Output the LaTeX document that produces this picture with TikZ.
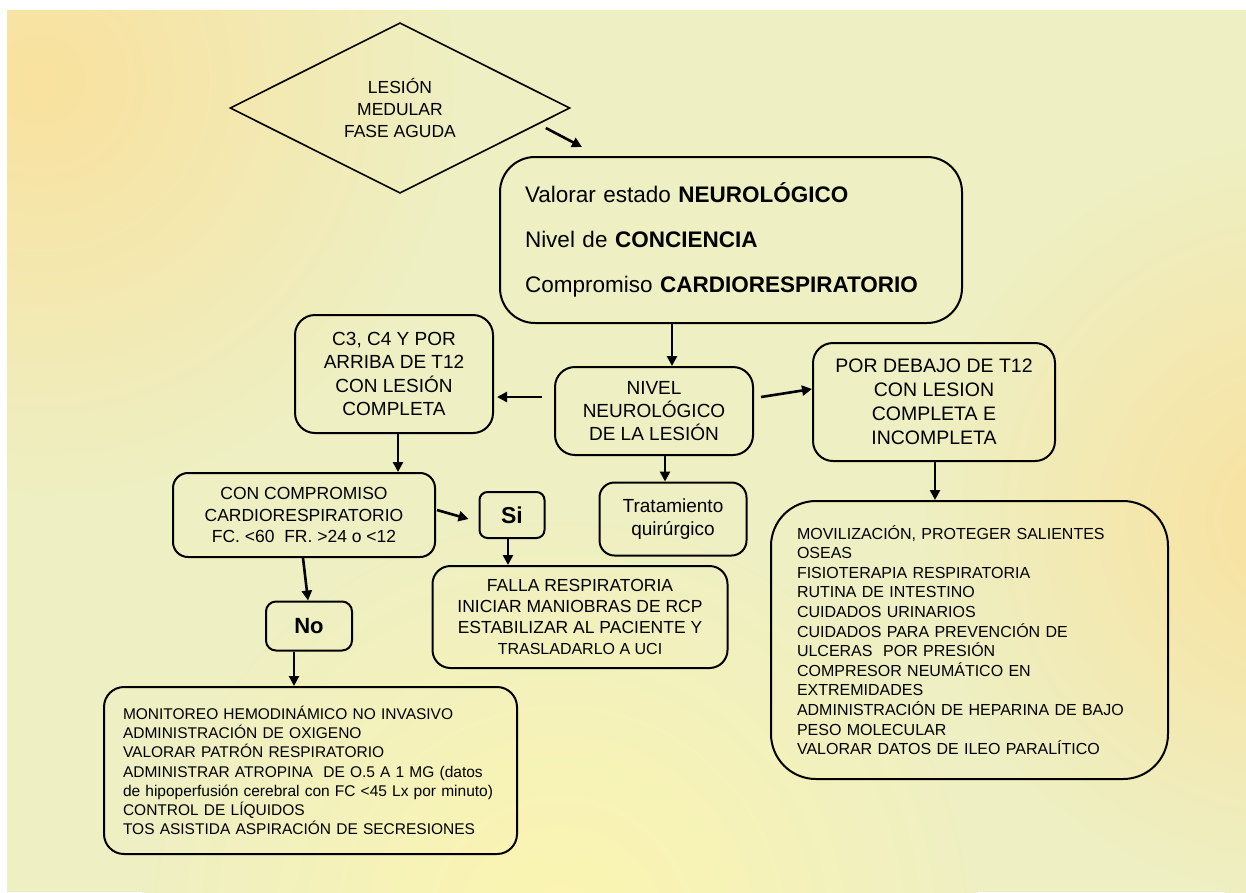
\documentclass[tikz,border=0pt]{standalone}
\usepackage{fontspec}
\setmainfont{Liberation Sans}
\usetikzlibrary{shapes.geometric,arrows.meta}

\definecolor{bgbase}{RGB}{238,239,194}
\definecolor{bgwarm}{RGB}{249,225,158}
\definecolor{bgsun}{RGB}{252,245,176}

\begin{document}
\begin{tikzpicture}[x=1pt, y=-1pt,
  box/.style={draw, line width=2pt, rounded corners=#1, align=center, inner sep=0pt},
  box/.default=18pt,
  arr/.style={-{Triangle[length=10pt,width=10pt]}, line width=2.6pt}]
  \useasboundingbox (0,0) rectangle (1246,892);
  \fill[white] (0,0) rectangle (1246,892);
  \begin{scope}
    \clip (7,10) rectangle (1246,892);
    \fill[bgbase] (7,10) rectangle (1246,892);
    \shade[inner color=bgwarm, outer color=bgbase] (40,80) circle (420);
    \shade[inner color=bgwarm, outer color=bgbase] (1300,520) circle (380);
    \shade[inner color=bgsun, outer color=bgbase] (560,930) circle (420);
  \end{scope}

  \node (lesion) [diamond, draw, line width=1.6pt, minimum width=340pt, minimum height=133pt, align=center, inner sep=0pt, font=\fontsize{17.5}{21.7}\selectfont] at (400,108) {LESIÓN\\MEDULAR\\FASE AGUDA};
  \node (valorar) [box=35pt, minimum width=462pt, minimum height=166pt, text width=412pt, align=left, font=\fontsize{22.5}{45}\selectfont] at (731,240) {Valorar estado \textbf{NEUROLÓGICO}\\Nivel de \textbf{CONCIENCIA}\\Compromiso \textbf{CARDIORESPIRATORIO}};
  \node (nivel) [box=20pt, minimum width=198pt, minimum height=88pt, font=\fontsize{19}{23}\selectfont] at (654,411) {NIVEL\\NEUROLÓGICO\\DE LA LESIÓN};
  \node (arriba) [box=20pt, minimum width=198pt, minimum height=118pt, font=\fontsize{19}{23.5}\selectfont] at (394,374) {C3, C4 Y POR\\ARRIBA DE T12\\CON LESIÓN\\COMPLETA};
  \node (debajo) [box=20pt, minimum width=242pt, minimum height=118pt, font=\fontsize{19.5}{24}\selectfont] at (934,402) {POR DEBAJO DE T12\\CON LESION\\COMPLETA E\\INCOMPLETA};
  \node (cardio) [box=15pt, minimum width=262pt, minimum height=84pt, font=\fontsize{17.5}{21.5}\selectfont] at (304,515) {CON COMPROMISO\\CARDIORESPIRATORIO\\FC. <60~~FR. >24 o <12};
  \node (si) [box=8pt, minimum width=65pt, minimum height=46pt, font=\fontsize{23}{26}\selectfont\bfseries] at (512,515) {Si};
  \node (cirugia) [box=15pt, minimum width=147pt, minimum height=73pt, font=\fontsize{19}{23}\selectfont] at (673,519) {Tratamiento\\quirúrgico};
  \node (falla) [box=18pt, minimum width=295pt, minimum height=102pt, font=\fontsize{17.5}{21}\selectfont] at (580,617) {FALLA RESPIRATORIA\\INICIAR MANIOBRAS DE RCP\\ESTABILIZAR AL PACIENTE Y\\{\fontsize{16}{21}\selectfont TRASLADARLO A UCI}};
  \node (no) [box=10pt, minimum width=86pt, minimum height=49pt, font=\fontsize{22}{26}\selectfont\bfseries] at (309,626) {No};
  \node (monitoreo) [box=20pt, minimum width=413pt, minimum height=167pt, text width=375pt, align=left, font=\fontsize{15.5}{19.2}\selectfont] at (310.5,770.5) {MONITOREO HEMODINÁMICO NO INVASIVO\\ADMINISTRACIÓN DE OXIGENO\\VALORAR PATRÓN RESPIRATORIO\\ADMINISTRAR ATROPINA~~DE O.5 A 1 MG (datos\\de hipoperfusión cerebral con FC <45 Lx por minuto)\\CONTROL DE LÍQUIDOS\\TOS ASISTIDA ASPIRACIÓN DE SECRESIONES};
  \node (cuidados) [box=45pt, minimum width=397pt, minimum height=278pt, text width=345pt, align=left, font=\fontsize{16}{19.6}\selectfont] at (969.5,640) {MOVILIZACIÓN, PROTEGER SALIENTES\\OSEAS\\FISIOTERAPIA RESPIRATORIA\\RUTINA DE INTESTINO\\CUIDADOS URINARIOS\\CUIDADOS PARA PREVENCIÓN DE\\ULCERAS~~POR PRESIÓN\\COMPRESOR NEUMÁTICO EN\\EXTREMIDADES\\ADMINISTRACIÓN DE HEPARINA DE BAJO\\PESO MOLECULAR\\VALORAR DATOS DE ILEO PARALÍTICO};

  \draw[arr] ([shift={(-25,20)}]lesion.east) -- ([shift={(83,-9)}]valorar.north west);
  \draw[arr] ([xshift=-59pt]valorar.south) -- ([xshift=18pt]nivel.north);
  \draw[arr] ([shift={(-12,-14)}]nivel.west) -- ([shift={(3,23)}]arriba.east);
  \draw[arr] ([shift={(7,-14)}]nivel.east) -- ([shift={(0,-13)}]debajo.west);
  \draw[arr] ([xshift=11pt]nivel.south) -- ([xshift=-8pt]cirugia.north);
  \draw[arr] ([xshift=4pt]arriba.south) -- ([xshift=94pt]cardio.north);
  \draw[arr] ([shift={(1,-5)}]cardio.east) -- ([shift={(-10,4)}]si.west);
  \draw[arr] ([xshift=-4pt]si.south) -- ([xshift=-72pt]falla.north);
  \draw[arr] ([xshift=-1pt]cardio.south) -- ([xshift=-1pt]no.north);
  \draw[arr] ([xshift=-15pt]no.south) -- ([xshift=-16.5pt]monitoreo.north);
  \draw[arr] ([xshift=1pt]debajo.south) -- ([xshift=-34.5pt]cuidados.north);
\end{tikzpicture}
\end{document}
